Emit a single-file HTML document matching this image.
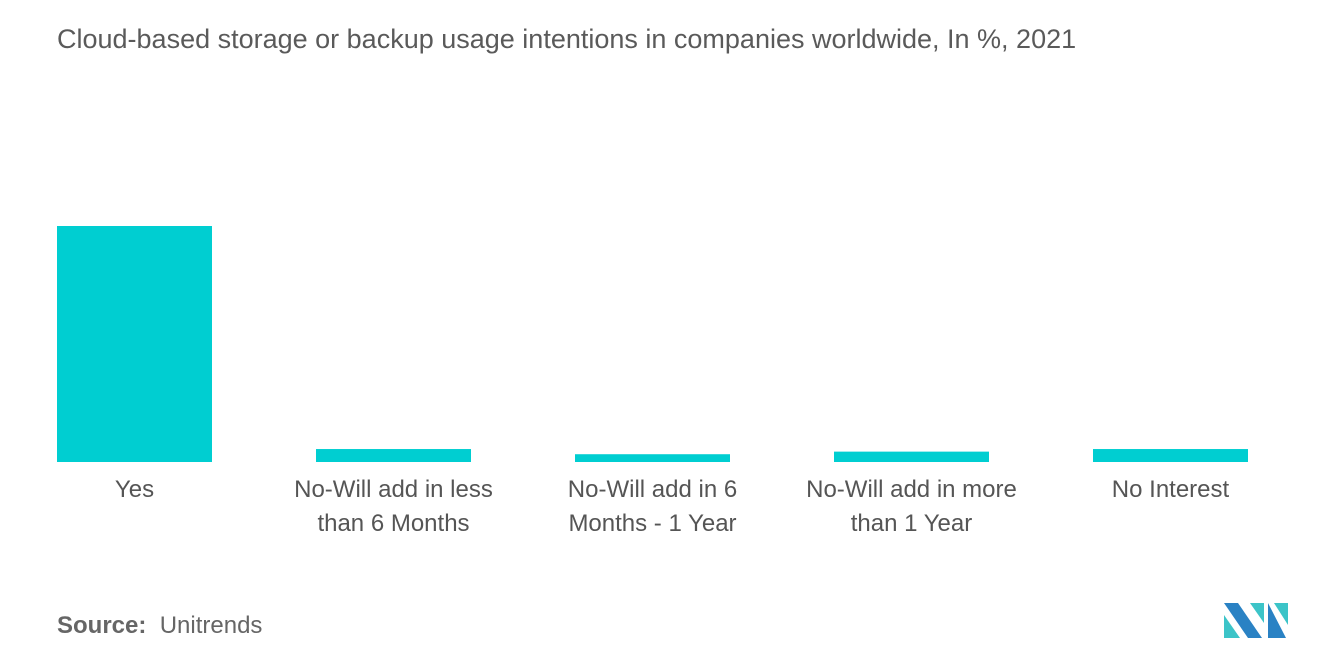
<!DOCTYPE html>
<html><head><meta charset="utf-8"><style>
body{margin:0;background:#fff;font-family:"Liberation Sans",sans-serif;}
#wrap{position:relative;width:1320px;height:665px;overflow:hidden;}
.t{position:absolute;color:#555;}
</style></head><body>
<div id="wrap">
<div class="t" style="left:57px;top:24px;font-size:27px;color:#5a5a5a;">Cloud-based storage or backup usage intentions in companies worldwide, In %, 2021</div>
<svg id="chart" width="1320" height="600" style="position:absolute;left:0;top:0"></svg>
<div class="t" style="left:57px;top:612px;font-size:24px;color:#666;"><b style="font-weight:600">Source:</b>&nbsp; Unitrends</div>
<svg style="position:absolute;left:1224px;top:603px" width="66" height="35" viewBox="0 0 66 35">
<polygon points="0,0 14,0 38,35 24,35" fill="#2a82c4"/>
<polygon points="0,12 16,35 0,35" fill="#3cc4c8"/>
<polygon points="26,0 40,0 40,20" fill="#3cc4c8"/>
<polygon points="44,0 44,35 62,35" fill="#2a82c4"/>
<polygon points="50,0 64,0 64,22" fill="#3cc4c8"/>
</svg>
</div>
<script>
const categories=["Yes","No-Will add in less|than 6 Months","No-Will add in 6|Months - 1 Year","No-Will add in more|than 1 Year","No Interest"];
const values=[91,5,3,4,5];
const NS="http://www.w3.org/2000/svg";
const svg=document.getElementById('chart');
const baseY=462, maxV=91, plotH=236, x0=57, step=259, bw=155;
function yScale(v){return baseY-v/maxV*plotH;}
function xScale(i){return x0+i*step;}
categories.forEach((c,i)=>{
  const r=document.createElementNS(NS,'rect');
  
  
  r.setAttribute('x',xScale(i));r.setAttribute('y',yScale(values[i]));
  r.setAttribute('width',bw);r.setAttribute('height',baseY-yScale(values[i]));
  r.setAttribute('fill','#00ced1');
  svg.appendChild(r);
  c.split('|').forEach((line,j)=>{
    const t=document.createElementNS(NS,'text');
    
    
    t.setAttribute('x',xScale(i)+bw/2);t.setAttribute('y',497+j*34);
    t.setAttribute('text-anchor','middle');t.setAttribute('font-size','24');
    t.setAttribute('fill','#555');t.setAttribute('font-family','Liberation Sans, sans-serif');
    t.textContent=line;svg.appendChild(t);
  });
});
</script>
</body></html>
